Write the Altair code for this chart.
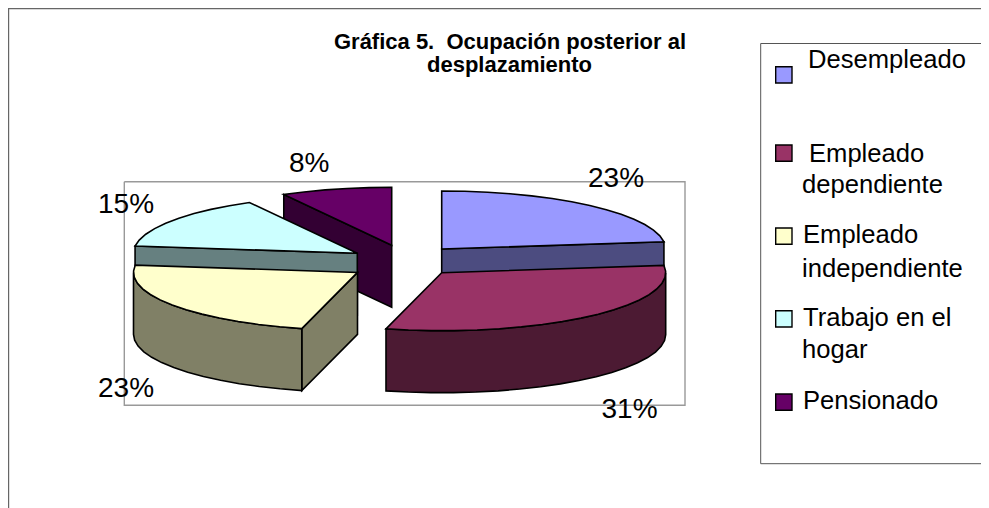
import math
import altair as alt

# ---- values ----
categories = ["Desempleado", "Empleado dependiente", "Empleado independiente", "Trabajo en el hogar", "Pensionado"]
values = [23, 31, 23, 15, 8]
value_labels = ["23%", "31%", "23%", "15%", "8%"]
colors = ["#9999FF", "#993366", "#FFFFCC", "#CCFFFF", "#660066"]

# ---- layout (page pixels, the page margin of 8 is removed below) ----
M = 8
W, H = 973, 500
CENTER = (399.5, 260.0)
RX, RY, DEPTH = 224.0, 58.0, 62.0
EXPLODE = [(42.2, -11.0), (42.2, 12.7), (-42.0, 12.4), (-42.2, -6.7), (-7.8, -14.7)]
DRAW_ORDER = [4, 3, 2, 0, 1]
STEP = 6.0

LABEL_POS = [(588, 186.7), (601.5, 418), (98, 396.7), (98, 212.7), (289, 171.7)]
LEGEND_SWATCH_Y = [66.7, 145, 228, 310.7, 394]
LEGEND_X0, LEGEND_SIZE = 775.7, 16.3
LEGEND_TEXT = [
    ("Desempleado", 808, 68), ("Empleado", 809, 161.7), ("dependiente", 802, 193),
    ("Empleado", 803, 243), ("independiente", 802, 277), ("Trabajo en el", 803, 326),
    ("hogar", 802, 358), ("Pensionado", 803, 409),
]
TITLE_TEXT = [("Gráfica 5.\u00a0 Ocupación posterior al", 510, 48.8), ("desplazamiento", 509.5, 72)]


def darker(c):
    r, g, b = (int(c[i:i + 2], 16) for i in (1, 3, 5))
    return "#%02X%02X%02X" % (round(r / 2), round(g / 2), round(b / 2))


def P(x, y):
    return [x - M, y - M]


def feature(rings, fill, stroke="#000000", sw=1.6):
    return {"type": "Feature",
            "geometry": {"type": "Polygon", "coordinates": [rings + [rings[0]]]},
            "properties": {"fill": fill, "stroke": stroke, "sw": sw}}


def line(points, stroke, sw):
    return {"type": "Feature",
            "geometry": {"type": "LineString", "coordinates": points},
            "properties": {"fill": "transparent", "stroke": stroke, "sw": sw}}


total = sum(values)
bounds = []
cum = 0.0
for v in values:
    bounds.append((cum, cum + v / total * 360.0))
    cum += v / total * 360.0


def angles(a0, a1):
    n = max(1, int(math.ceil((a1 - a0) / STEP)))
    return [a0 + (a1 - a0) * k / n for k in range(n + 1)]


def rim(cx, cy, th, dz=0.0):
    t = math.radians(th)
    return P(cx + RX * math.sin(t), cy - RY * math.cos(t) + dz)


features = []
# outer frames
features.append(line([P(M + .5, 508), P(M + .5, M + .5), P(989, M + .5)], "#666666", 1.4))
features.append(line([P(124.3, 181.7), P(685, 181.7), P(685, 405.3), P(124.3, 405.3), P(124.3, 181.7)], "#999999", 1.4))
features.append(line([P(989, 43.5), P(760.7, 43.5), P(760.7, 463.7), P(989, 463.7)], "#555555", 1.0))

# the exploded slices, back to front
for i in DRAW_ORDER:
    a0, a1 = bounds[i]
    cx, cy = CENTER[0] + EXPLODE[i][0], CENTER[1] + EXPLODE[i][1]
    top, wall = colors[i], darker(colors[i])
    apex, apex_low = P(cx, cy), P(cx, cy + DEPTH)
    if math.sin(math.radians(a1)) > 1e-9:
        features.append(feature([apex, rim(cx, cy, a1), rim(cx, cy, a1, DEPTH), apex_low], wall))
    if math.sin(math.radians(a0)) < -1e-9:
        features.append(feature([apex, rim(cx, cy, a0), rim(cx, cy, a0, DEPTH), apex_low], wall))
    f0, f1 = max(a0, 90.0), min(a1, 270.0)
    if f1 > f0:
        th = angles(f0, f1)
        features.append(feature([rim(cx, cy, t) for t in th] + [rim(cx, cy, t, DEPTH) for t in reversed(th)], wall))
    features.append(feature([apex] + [rim(cx, cy, t) for t in angles(a0, a1)], top))

# legend swatches
for c, y in zip(colors, LEGEND_SWATCH_Y):
    x0, x1, y1 = LEGEND_X0, LEGEND_X0 + LEGEND_SIZE, y + LEGEND_SIZE
    features.append(feature([P(x0, y), P(x1, y), P(x1, y1), P(x0, y1)], c, "#000000", 1.4))

shapes = alt.Chart(alt.Data(values=features)).mark_geoshape(strokeJoin="miter").encode(
    fill=alt.Fill("properties.fill:N", scale=None),
    stroke=alt.Stroke("properties.stroke:N", scale=None),
    strokeWidth=alt.StrokeWidth("properties.sw:Q", scale=None),
).project(type="identity", scale=1, translate=[0, 0])

FONT = "Liberation Sans"


def text_layer(rows, size, bold=False, align="left"):
    data = [{"t": t, "x": x - M, "y": y - M} for t, x, y in rows]
    return alt.Chart(alt.Data(values=data)).mark_text(
        font=FONT, fontSize=size, fontWeight="bold" if bold else "normal",
        align=align, baseline="alphabetic", color="#000000",
    ).encode(x=alt.X("x:Q", scale=None), y=alt.Y("y:Q", scale=None), text="t:N")


labels = text_layer([(t, x, y) for t, (x, y) in zip(value_labels, LABEL_POS)], 28)
legend = text_layer(LEGEND_TEXT, 25.6)
title = text_layer(TITLE_TEXT, 22, bold=True, align="center")

chart = alt.layer(shapes, labels, legend, title).properties(
    width=W, height=H, padding=0,
    autosize=alt.AutoSizeParams(type="none"),
    background="#FFFFFF",
).configure_view(stroke=None)

chart.save("out.html", embed_options={"renderer": "svg", "actions": False})
